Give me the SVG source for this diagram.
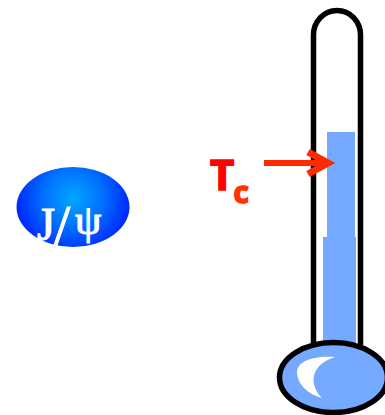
<svg xmlns="http://www.w3.org/2000/svg" width="385" height="415" viewBox="0 0 385 415">
<style>
.blk{stroke:#000;stroke-width:5.500;}
.fillb{fill:#75a8ff;}
.lab{font-family:"Open Sans","DejaVu Sans",sans-serif;font-weight:700;stroke-width:1.500;}
</style>
<defs>
<radialGradient id="g" gradientUnits="userSpaceOnUse" cx="73" cy="198" r="60">
<stop offset="0" stop-color="#00a8ff"/>
<stop offset="0.5" stop-color="#0070ff"/>
<stop offset="1" stop-color="#0020ff"/>
</radialGradient>
</defs>
<rect width="385" height="415" fill="#fff"/>
<g id="jpsi">
<ellipse cx="73" cy="207" rx="56.500" ry="40" fill="url(#g)"/>
<text font-family="'Liberation Serif',serif" font-size="46" fill="#fff" stroke="#fff" stroke-width="1.200"><tspan x="37" y="240">J</tspan><tspan x="54" y="245" font-size="58">/</tspan><tspan x="75" y="234" font-size="42">ψ</tspan></text>
</g>
<g id="thermometer">
<path d="M313.500 345V35A23.500 24.500 0 0 1 360.500 35V345" fill="#fff" class="blk"/>
<rect class="fillb" x="327" y="132" width="28" height="106"/>
<rect class="fillb" x="323" y="237" width="33" height="106"/>
<ellipse cx="333.500" cy="377.500" rx="54" ry="35" class="blk fillb"/>
<path d="M335 357C312 355 297 362 297 372C297 385 310 395 322 398C310 386 308 366 335 357Z" fill="#fff"/>
</g>
<g id="tc">
<text class="lab" x="210" y="190" font-size="42" fill="#ff0000" stroke="#ff0000">T</text>
<text class="lab" x="233.500" y="203" font-size="30" fill="#ff3300" stroke="#ff3300">c</text>
</g>
<g id="connectors">
<path d="M264 163H328" fill="none" stroke="#ff2a00" stroke-width="6"/>
<path d="M308 152L328 163L308 174" fill="none" stroke="#ff2a00" stroke-width="7"/>
</g>
</svg>
